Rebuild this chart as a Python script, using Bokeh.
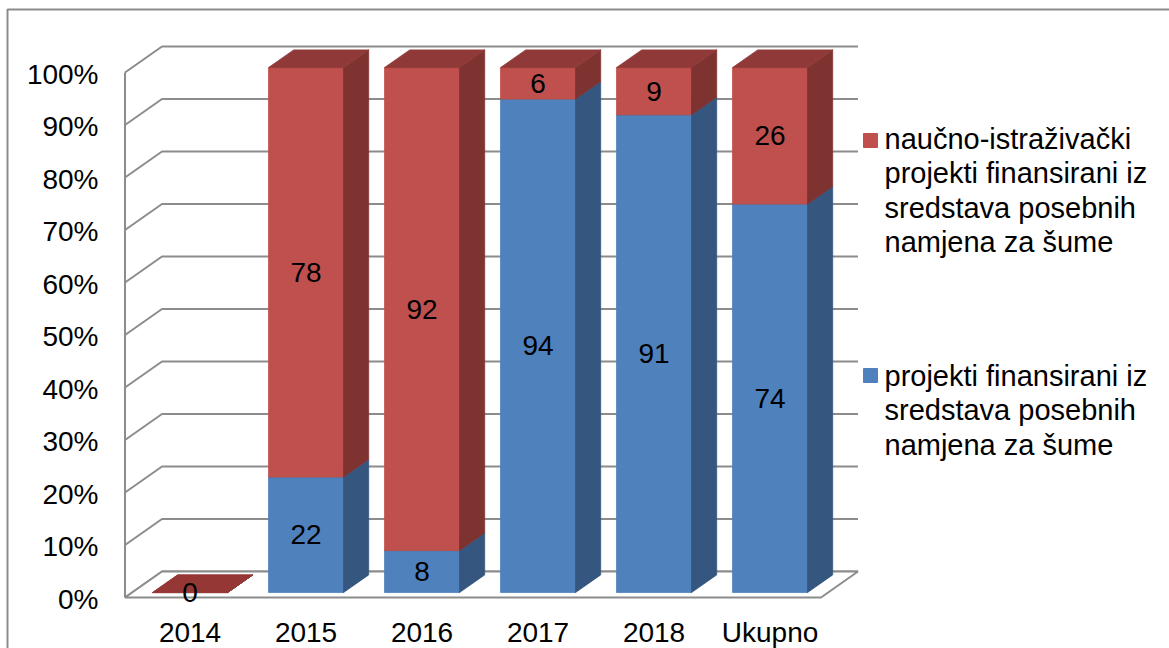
from bokeh.plotting import figure
from bokeh.models import Range1d, ColumnDataSource
from bokeh.embed import file_html
from bokeh.resources import INLINE
from bokeh.core.properties import value

# ---------------- data ----------------
categories = ["2014", "2015", "2016", "2017", "2018", "Ukupno"]
blue_vals = [0, 22, 8, 94, 91, 74]      # projekti finansirani iz sredstava posebnih namjena za šume
red_vals = [0, 78, 92, 6, 9, 26]        # naučno-istraživački projekti ...
series_red = ["naučno-istraživački", "projekti finansirani iz", "sredstava posebnih", "namjena za šume"]
series_blue = ["projekti finansirani iz", "sredstava posebnih", "namjena za šume"]
y_ticks = [0, 10, 20, 30, 40, 50, 60, 70, 80, 90, 100]
y_tick_labels = ["0%", "10%", "20%", "30%", "40%", "50%", "60%", "70%", "80%", "90%", "100%"]

# ---------------- layout (pixels, page coords) ----------------
W, H = 1169, 648
X0 = 182.5        # page x of category 0 on the front plane
PX_CAT = 116.0    # px per category
Y0 = 597.0        # page y of 0% on the front plane
PX_PCT = 5.25     # px per percent
DEPTH_X, DEPTH_Y = 37.0, 26.0
DX = DEPTH_X / PX_CAT
DY = DEPTH_Y / PX_PCT
D0, D1 = 0.19, 0.87   # bar front/back depth
HALF_W = 37.5 / PX_CAT

RED_FRONT, RED_SIDE, RED_TOP = "#C0504D", "#7F3331", "#8F3A38"
BLUE_FRONT, BLUE_SIDE, BLUE_TOP = "#4F81BD", "#35577F", "#3E6796"
GRID = "#8C8C8C"
FONT = value("Liberation Sans")
FS = value("28px")
FS_LEG = value("29px")


def dx(px):
    return (px - X0) / PX_CAT


def dy(py):
    return (Y0 - py) / PX_PCT


def P(x, y, d):
    return x + d * DX, y + d * DY


p = figure(width=W, height=H, output_backend="svg", toolbar_location=None,
           x_range=Range1d(dx(0), dx(W)),
           y_range=Range1d(dy(H), dy(0)),
           x_axis_type=None, y_axis_type=None, min_border=0,
           background_fill_color="white", border_fill_color="white")
p.outline_line_color = None

# chart border (top and left visible)
p.line([dx(7), dx(7), dx(W + 5)], [dy(H + 5), dy(9), dy(9)], line_color=GRID, line_width=2)

n = len(categories)
left, right = -0.5, n - 0.5

# left wall + back wall gridlines
gx, gy = [], []
for v in y_ticks:
    a = P(left, v, 0)
    b = P(left, v, 1)
    c = P(right, v, 1)
    gx.append([a[0], b[0], c[0]])
    gy.append([a[1], b[1], c[1]])
p.multi_line(gx, gy, line_color=GRID, line_width=2)
p.line([left, left], [0, 100], line_color=GRID, line_width=2)

# floor
fl = [P(left, 0, 0), P(right, 0, 0), P(right, 0, 1), P(left, 0, 1)]
p.patch([q[0] for q in fl], [q[1] for q in fl], fill_color="white",
        line_color=GRID, line_width=2)

# bars
pxs, pys, cols = [], [], []
lx, ly, lt = [], [], []
for i in range(n):
    segs = [(0, blue_vals[i], BLUE_FRONT, BLUE_SIDE, BLUE_TOP, False),
            (blue_vals[i], blue_vals[i] + red_vals[i], RED_FRONT, RED_SIDE, RED_TOP, True)]
    for y0, y1, cf, cs, ct, is_top in segs:
        xl, xr = i - HALF_W, i + HALF_W
        front = [P(xl, y0, D0), P(xr, y0, D0), P(xr, y1, D0), P(xl, y1, D0)]
        side = [P(xr, y0, D0), P(xr, y0, D1), P(xr, y1, D1), P(xr, y1, D0)]
        top = [P(xl, y1, D0), P(xr, y1, D0), P(xr, y1, D1), P(xl, y1, D1)]
        top_col = ct if (y1 - y0) > 0 else "#953735"
        for poly, col in ((front, cf), (side, cs), (top, top_col)):
            pxs.append([q[0] for q in poly])
            pys.append([q[1] for q in poly])
            cols.append(col)
        if (y1 - y0) > 0 or is_top:
            c = P(i, (y0 + y1) / 2, D0)
            lx.append(c[0])
            ly.append(c[1])
            lt.append(str(y1 - y0))

p.patches(xs="xs", ys="ys", fill_color="c", line_color="c", line_width=0.8,
          source=ColumnDataSource(dict(xs=pxs, ys=pys, c=cols)))

p.text(x=lx, y=ly, text=lt, text_font=FONT, text_font_size=FS,
       text_align="center", text_baseline="middle", text_color="black")

# y tick labels
p.text(x=[dx(98)] * len(y_ticks), y=[v - 0.3 for v in y_ticks], text=y_tick_labels,
       text_font=FONT, text_font_size=FS, text_align="right",
       text_baseline="middle", text_color="black")

# x tick labels
p.text(x=[i + D0 * DX for i in range(n)], y=[dy(632)] * n, text=categories,
       text_font=FONT, text_font_size=FS, text_align="center",
       text_baseline="middle", text_color="black")

# legend
LEG_X = 884
p.scatter(x=[dx(870)], y=[dy(140)], marker="square", size=14,
          fill_color=RED_FRONT, line_color=RED_FRONT)
p.scatter(x=[dx(870)], y=[dy(375)], marker="square", size=14,
          fill_color=BLUE_FRONT, line_color=BLUE_FRONT)
LINE_H = 34.5
p.text(x=[dx(LEG_X)] * len(series_red),
       y=[dy(138 + k * LINE_H) for k in range(len(series_red))],
       text=series_red, text_font=FONT, text_font_size=FS_LEG, text_align="left",
       text_baseline="middle", text_color="black")
p.text(x=[dx(LEG_X)] * len(series_blue),
       y=[dy(375 + k * LINE_H) for k in range(len(series_blue))],
       text=series_blue, text_font=FONT, text_font_size=FS_LEG, text_align="left",
       text_baseline="middle", text_color="black")

open("out.html", "w").write(file_html(p, INLINE))
